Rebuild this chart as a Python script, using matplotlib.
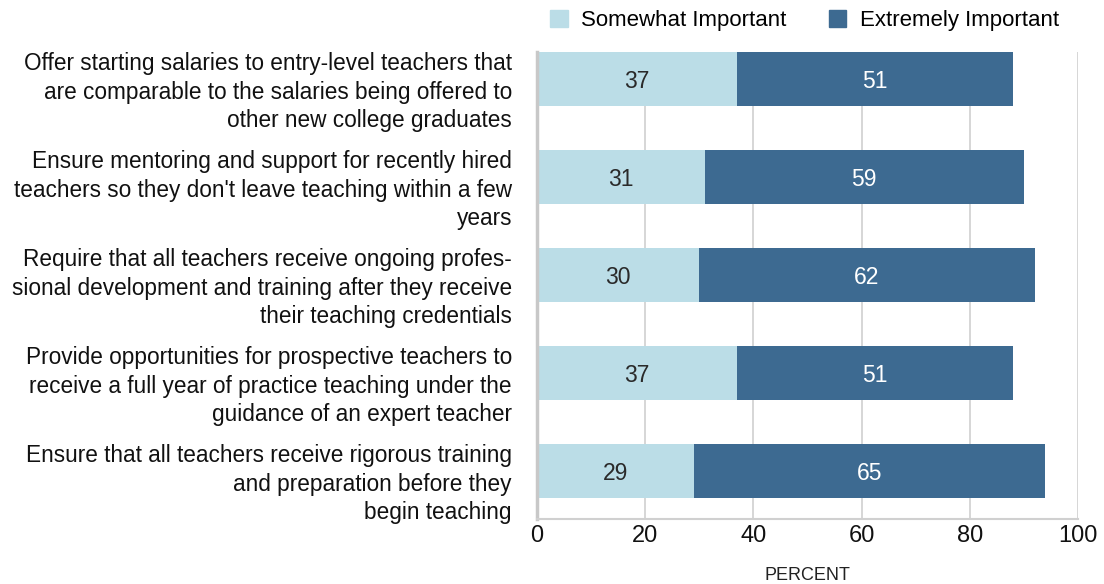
import matplotlib.pyplot as plt
import matplotlib.transforms as mtransforms
from matplotlib.patches import Patch

labels = [
    "Offer starting salaries to entry-level teachers that\nare comparable to the salaries being offered to\nother new college graduates",
    "Ensure mentoring and support for recently hired\nteachers so they don't leave teaching within a few\nyears",
    "Require that all teachers receive ongoing profes-\nsional development and training after they receive\ntheir teaching credentials",
    "Provide opportunities for prospective teachers to\nreceive a full year of practice teaching under the\nguidance of an expert teacher",
    "Ensure that all teachers receive rigorous training\nand preparation before they\nbegin teaching",
]
somewhat = [37, 31, 30, 37, 29]
extremely = [51, 59, 62, 51, 65]

c_light = "#BBDDE7"
c_dark = "#3D6A91"

plt.rcParams['font.family'] = ['Liberation Sans', 'DejaVu Sans']

fig = plt.figure(figsize=(11.04, 5.84), dpi=100)
ax = fig.add_axes([0.4864, 0.1113, 0.49, 0.7997])

pos = list(range(len(labels)))
ax.barh(pos, somewhat, height=0.551, color=c_light, zorder=2)
ax.barh(pos, extremely, left=somewhat, height=0.551, color=c_dark, zorder=2)

for i in pos:
    ax.text(somewhat[i] / 2, i, str(somewhat[i]), ha='center', va='center_baseline',
            fontsize=16.5, color='#2a2a2a', zorder=3)
    ax.text(somewhat[i] + extremely[i] / 2, i, str(extremely[i]), ha='center',
            va='center_baseline', fontsize=16.5, color='white', zorder=3)

ax.set_xlim(0, 100)
ax.set_ylim(4.49, -0.2755)
ax.set_xticks([0, 20, 40, 60, 80, 100])
ax.tick_params(axis='x', length=0, labelsize=17, pad=4, colors='#111111')
ax.set_yticks(pos)
ax.set_yticklabels(labels, fontsize=16.3, linespacing=1.3, color='#111111')
ax.tick_params(axis='y', length=0, pad=18)
# the reference labels sit a little below the bar centres
shift = mtransforms.ScaledTranslation(0, -0.08, fig.dpi_scale_trans)
for lab in ax.get_yticklabels():
    lab.set_transform(lab.get_transform() + shift)
ax.grid(axis='x', color='#d0d0d0', linewidth=1.2, zorder=0)
ax.set_axisbelow(True)
for s in ['top', 'right']:
    ax.spines[s].set_visible(False)
ax.spines['left'].set_color('#c8c8c8')
ax.spines['left'].set_linewidth(2.5)
ax.spines['bottom'].set_color('#d0d0d0')
ax.spines['bottom'].set_linewidth(1.5)
fig.text(0.7310, 0.0154, "PERCENT", ha='center', va='center', fontsize=13,
         color='#222222')

handles = [Patch(color=c_light, label='Somewhat Important'),
           Patch(color=c_dark, label='Extremely Important')]
fig.legend(handles=handles, loc='center left', bbox_to_anchor=(0.498, 0.965), ncol=2,
           frameon=False, fontsize=16, handlelength=0.8, handleheight=0.8,
           handletextpad=0.6, columnspacing=1.9, borderpad=0, borderaxespad=0)

plt.savefig('out.png', dpi=100)
